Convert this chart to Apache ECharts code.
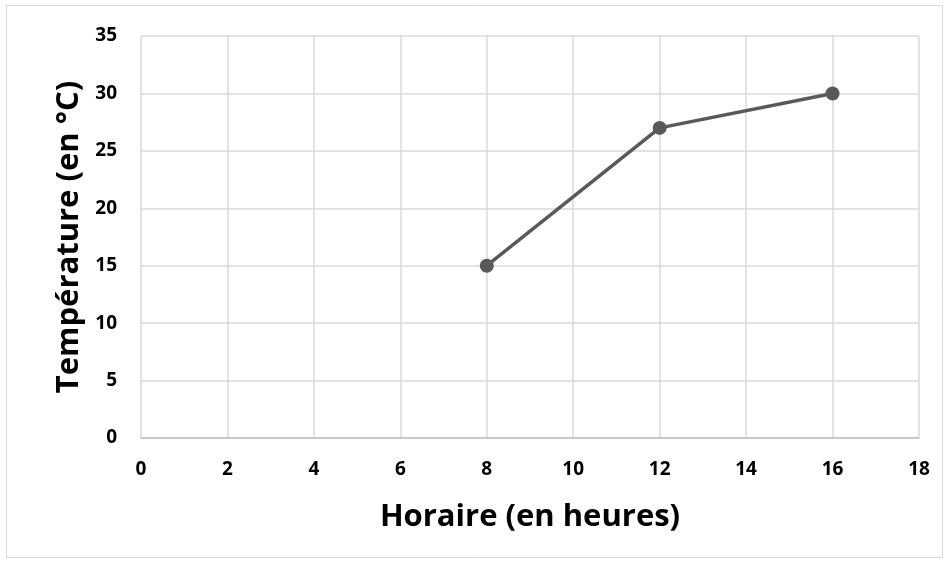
<!DOCTYPE html>
<html>
<head>
<meta charset="utf-8">
<script src="https://cdn.jsdelivr.net/npm/echarts@6/dist/echarts.min.js"></script>
<style>
  html, body { margin: 0; padding: 0; background: #fff; }
  #chart { width: 949px; height: 564px; }
</style>
</head>
<body>
<div id="chart"></div>
<script>
const hours = [8, 12, 16]
const temperatures = [15, 27, 30]
const xTitle = "Horaire (en heures)"
const yTitle = "Température (en °C)"

const font = "'Open Sans', 'Liberation Sans', sans-serif"
const gridColor = "#d9d9d9"

const chart = echarts.init(document.getElementById("chart"), null, { renderer: "canvas" })

chart.setOption({
  animation: false,
  backgroundColor: "#fff",
  graphic: [
    {
      type: "rect",
      shape: { x: 6.5, y: 5.5, width: 936, height: 552 },
      style: { fill: "none", stroke: "#d9d9d9", lineWidth: 1 },
      silent: true,
    },
  ],
  grid: { left: 141, right: 30, top: 36, bottom: 126 },
  xAxis: {
    type: "value",
    min: 0,
    max: 18,
    interval: 2,
    name: xTitle,
    nameLocation: "middle",
    nameGap: 64,
    nameTextStyle: { fontFamily: font, fontWeight: "bold", fontSize: 31, color: "#000" },
    axisLine: { show: true, lineStyle: { color: "#bfbfbf", width: 1.5 } },
    axisTick: { show: false },
    axisLabel: { fontFamily: font, fontWeight: "bold", fontSize: 19, color: "#000", margin: 22 },
    splitLine: { show: true, lineStyle: { color: gridColor, width: 1.5 } },
  },
  yAxis: {
    type: "value",
    min: 0,
    max: 35,
    interval: 5,
    name: yTitle,
    nameLocation: "middle",
    nameGap: 56,
    nameRotate: 90,
    nameTextStyle: { fontFamily: font, fontWeight: "bold", fontSize: 31, color: "#000" },
    axisLine: { show: false },
    axisTick: { show: false },
    axisLabel: { fontFamily: font, fontWeight: "bold", fontSize: 19, color: "#000", margin: 24 },
    splitLine: { show: true, lineStyle: { color: gridColor, width: 1.5 } },
  },
  series: [
    {
      type: "line",
      data: hours.map((h, i) => [h, temperatures[i]]),
      symbol: "circle",
      symbolSize: 14,
      itemStyle: { color: "#595959" },
      lineStyle: { color: "#595959", width: 3.5 },
    },
  ],
})
</script>
</body>
</html>
